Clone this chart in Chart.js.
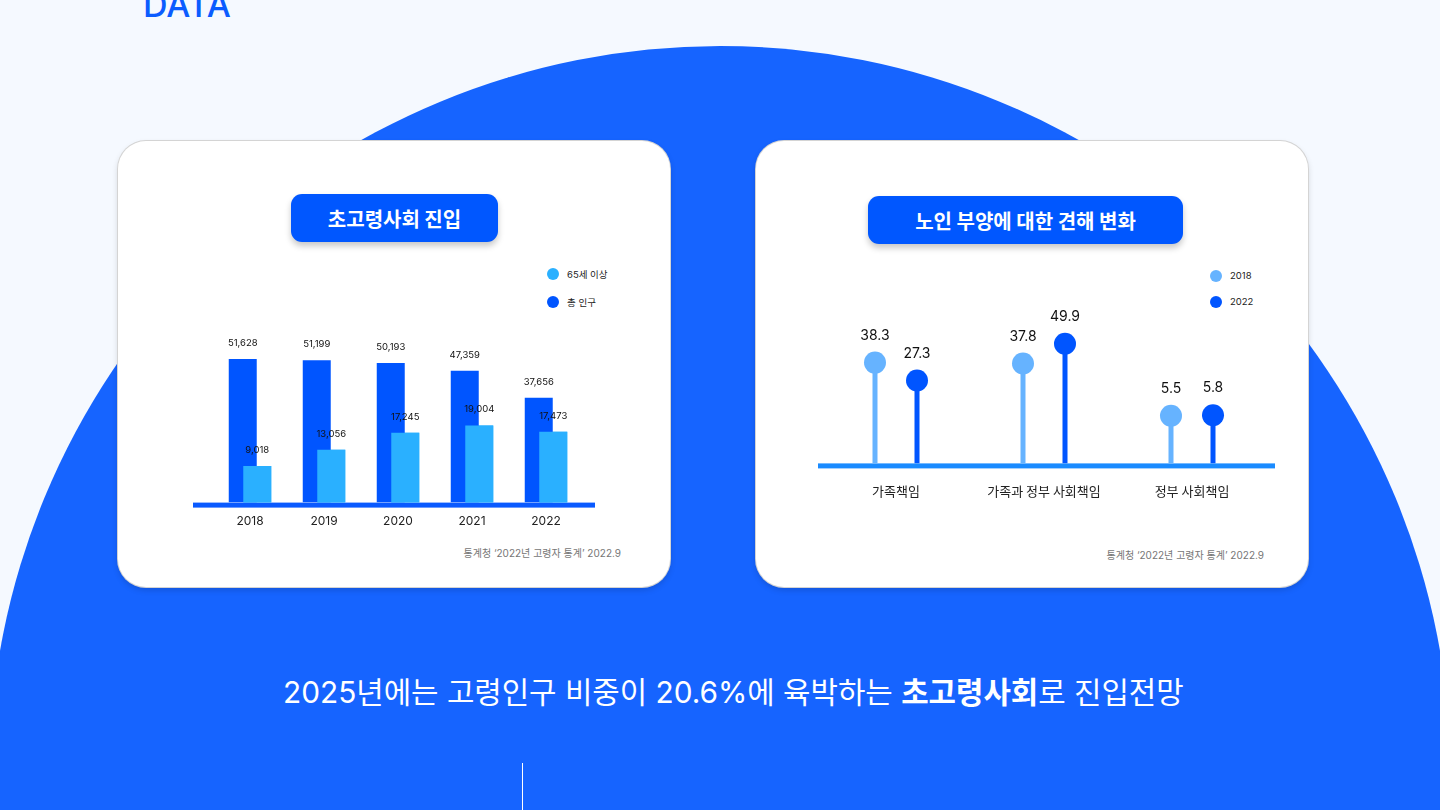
<!DOCTYPE html>
<html><head><meta charset="utf-8">
<script src="https://cdn.jsdelivr.net/npm/chart.js@4.4.1/dist/chart.umd.min.js"></script>
<style>
html,body{margin:0;padding:0;}
body{width:1440px;height:810px;overflow:hidden;position:relative;background:#F5F9FF;font-family:Inter,"Noto Sans CJK KR",sans-serif;}
.abs{position:absolute;}
.circle{left:-11px;top:46px;width:1462px;height:1462px;border-radius:50%;background:#1664FF;}
.data{left:143px;top:-12px;font-size:34px;font-weight:500;color:#0B5CFF;line-height:34px;}
.card{top:141px;width:552px;height:446px;background:#fff;border-radius:28px;box-shadow:0 0 0 1px #d4d4d4,0 3px 6px rgba(0,0,0,0.16);}
.pill{height:48px;background:#0057FF;border-radius:11px;color:#fff;font-weight:700;font-size:20px;display:flex;align-items:center;justify-content:center;box-shadow:0 4px 6px rgba(0,0,0,0.22);font-family:"Noto Sans CJK KR",sans-serif;}
.dot{width:12px;height:12px;border-radius:50%;}
.lg{font-size:9.5px;color:#222;line-height:12px;white-space:nowrap;font-family:Inter,"Noto Sans CJK KR",sans-serif;}
.note{font-size:10px;color:#767676;line-height:12px;white-space:nowrap;font-family:Inter,"Noto Sans CJK KR",sans-serif;}
.headline{left:283px;top:674px;font-size:29.8px;line-height:36px;color:#fff;white-space:nowrap;font-family:Inter,"Noto Sans CJK KR",sans-serif;}
.vline{left:522px;top:763px;width:1px;height:47px;background:#fff;}
canvas{position:absolute;}
</style>
</head>
<body>
<div class="abs circle"></div>
<div class="abs data">DATA</div>

<div class="abs card" style="left:118px;"></div>
<div class="abs card" style="left:756px;"></div>

<div class="abs pill" style="left:291px;top:194px;width:207px;">초고령사회 진입</div>
<div class="abs pill" style="left:868px;top:196px;width:315px;">노인 부양에 대한 견해 변화</div>

<div class="abs dot" style="left:547px;top:268px;background:#2AB0FF;"></div>
<div class="abs lg" style="left:567px;top:269px;">65세 이상</div>
<div class="abs dot" style="left:547px;top:296px;background:#0055FF;"></div>
<div class="abs lg" style="left:567px;top:297px;">총 인구</div>

<div class="abs dot" style="left:1210px;top:270px;background:#66B3FF;"></div>
<div class="abs lg" style="left:1230px;top:270px;">2018</div>
<div class="abs dot" style="left:1210px;top:296px;background:#0055FF;"></div>
<div class="abs lg" style="left:1230px;top:296px;">2022</div>

<canvas id="popChart" width="430" height="260" style="left:180px;top:282px;width:430px;height:260px;"></canvas>
<canvas id="viewChart" width="490" height="230" style="left:800px;top:290px;width:490px;height:230px;"></canvas>

<div class="abs note" style="right:819px;top:547px;">통계청 ‘2022년 고령자 통계’ 2022.9</div>
<div class="abs note" style="right:176px;top:549px;">통계청 ‘2022년 고령자 통계’ 2022.9</div>

<div class="abs headline">2025년에는 고령인구 비중이 20.6%에 육박하는 <b>초고령사회</b>로 진입전망</div>
<div class="abs vline"></div>

<script>
// ---- data: 초고령사회 진입 ----
const popYears = ['2018', '2019', '2020', '2021', '2022'];
const totalPop = [51628, 51199, 50193, 47359, 37656];
const agedPop = [9018, 13056, 17245, 19004, 17473];
const popSeriesNames = ['총 인구', '65세 이상'];

// ---- data: 노인 부양에 대한 견해 변화 ----
const viewCategories = ['가족책임', '가족과 정부 사회책임', '정부 사회책임'];
const view2018 = [38.3, 37.8, 5.5];
const view2022 = [27.3, 49.9, 5.8];
const viewSeriesNames = ['2018', '2022'];

const FONT = 'Inter, "Noto Sans CJK KR", sans-serif';
const KFONT = '"Noto Sans CJK KR", Inter, sans-serif';

function baselinePlugin(color, thick, extL, extR) {
  return {
    id: 'baseline',
    beforeDatasetsDraw(chart) {
      const { ctx, chartArea: a } = chart;
      ctx.save();
      ctx.fillStyle = color;
      ctx.fillRect(a.left - extL, a.bottom, a.right - a.left + extL + extR, thick);
      ctx.restore();
    }
  };
}

function barLabelPlugin(redrawIndex, font, offset, fmt) {
  return {
    id: 'barLabels',
    afterDatasetsDraw(chart) {
      const ctx = chart.ctx;
      if (redrawIndex !== null) {
        chart.getDatasetMeta(redrawIndex).data.forEach(el => el.draw(ctx));
      }
      ctx.save();
      ctx.font = font;
      ctx.fillStyle = '#111';
      ctx.textAlign = 'center';
      ctx.textBaseline = 'middle';
      chart.data.datasets.forEach((ds, i) => {
        chart.getDatasetMeta(i).data.forEach((el, j) => {
          ctx.fillText(fmt(ds.data[j]), el.x, el.y - offset);
        });
      });
      ctx.restore();
    }
  };
}

function lollipopHeadPlugin(radius, font, offset) {
  return {
    id: 'heads',
    afterDatasetsDraw(chart) {
      const ctx = chart.ctx;
      ctx.save();
      chart.data.datasets.forEach((ds, i) => {
        chart.getDatasetMeta(i).data.forEach((el, j) => {
          ctx.beginPath();
          ctx.arc(el.x, el.y, radius, 0, Math.PI * 2);
          ctx.fillStyle = ds.backgroundColor;
          ctx.fill();
          ctx.font = font;
          ctx.fillStyle = '#111';
          ctx.textAlign = 'center';
          ctx.textBaseline = 'middle';
          ctx.fillText(String(ds.data[j]), el.x, el.y - offset);
        });
      });
      ctx.restore();
    }
  };
}

// ---- left chart ----
new Chart(document.getElementById('popChart'), {
  type: 'bar',
  data: {
    labels: popYears,
    datasets: [
      { label: popSeriesNames[0], data: totalPop, backgroundColor: '#0055FF', yAxisID: 'y',
        categoryPercentage: 0.392, barPercentage: 1.93 },
      { label: popSeriesNames[1], data: agedPop, backgroundColor: '#2AB0FF', yAxisID: 'y1',
        categoryPercentage: 0.392, barPercentage: 1.93 }
    ]
  },
  options: {
    responsive: false, animation: false, devicePixelRatio: 1,
    layout: { padding: { left: 33, right: 27, top: 0, bottom: 1 } },
    plugins: { legend: { display: false }, tooltip: { enabled: false } },
    scales: {
      x: { grid: { display: false, drawTicks: false }, border: { display: false },
           ticks: { padding: 12, color: '#222', font: { family: FONT, size: 12 }, maxRotation: 0 } },
      y: { display: false, min: 0, max: 79300 },
      y1: { display: false, min: 0, max: 54450 }
    }
  },
  plugins: [baselinePlugin('#0A5AFF', 5, 20, 12),
            barLabelPlugin(1, '9.5px ' + FONT, 16, v => v.toLocaleString('en-US'))]
});

// ---- right chart ----
const viewMin = -24;
new Chart(document.getElementById('viewChart'), {
  type: 'bar',
  data: {
    labels: viewCategories,
    datasets: [
      { label: viewSeriesNames[0], data: view2018, backgroundColor: '#66B3FF', base: viewMin,
        categoryPercentage: 0.5676, barPercentage: 0.119 },
      { label: viewSeriesNames[1], data: view2022, backgroundColor: '#0055FF', base: viewMin,
        categoryPercentage: 0.5676, barPercentage: 0.119 }
    ]
  },
  options: {
    responsive: false, animation: false, devicePixelRatio: 1,
    layout: { padding: { left: 22, right: 24, top: 10, bottom: 2 } },
    plugins: { legend: { display: false }, tooltip: { enabled: false } },
    scales: {
      x: { grid: { display: false, drawTicks: false }, border: { display: false },
           ticks: { padding: 19.5, color: '#222', font: { family: KFONT, size: 13 }, maxRotation: 0 } },
      y: { display: false, min: viewMin, max: 77 }
    }
  },
  plugins: [baselinePlugin('#1A8BFF', 5, 4, 9),
            lollipopHeadPlugin(11, '14px ' + FONT, 27)]
});
</script>
</body></html>
